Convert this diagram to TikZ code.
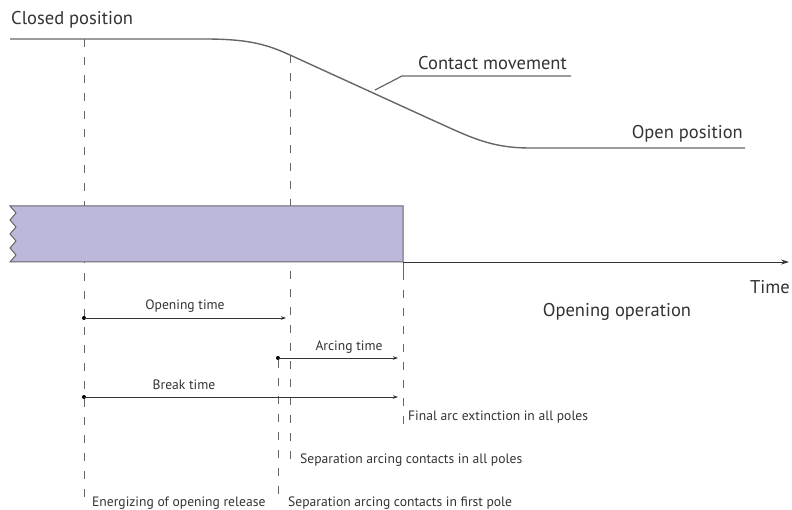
\documentclass[tikz,border=0pt]{standalone}
\usepackage{fontspec}
\setmainfont{PT Sans}
\usetikzlibrary{arrows.meta}
\definecolor{barfill}{HTML}{BBB8DA}
\definecolor{ink}{HTML}{333333}

\begin{document}
\begin{tikzpicture}[x=1pt, y=-1pt,
    biglabel/.style={inner sep=0pt, text=ink, font=\fontsize{18.5}{22}\selectfont},
    smalllabel/.style={inner sep=0pt, text=ink, font=\fontsize{13.6}{16}\selectfont},
    guide/.style={draw=black!60, line width=0.9pt, dash pattern=on 8pt off 10pt},
    span/.style={draw=ink, line width=0.8pt, -{Stealth[length=5pt, width=3.5pt]}},
    dot/.style={circle, fill=black, inner sep=0pt, minimum size=4pt},
]
    \useasboundingbox (0,0) rectangle (792,510);

    % instants on the time axis
    \coordinate (t0) at (84, 39);   \coordinate (b0) at (84, 506);
    \coordinate (t1) at (290, 55);  \coordinate (b1) at (290, 464);
    \coordinate (t2) at (403, 272); \coordinate (b2) at (403, 424);
    \coordinate (b3) at (278, 500);

    \foreach \i in {0, 1, 2} {
        \draw[guide] (t\i) -- (b\i);
    }

    % contact movement
    \coordinate (c0) at (10, 39);
    \coordinate (c1) at (745, 148);
    \draw[black!60, line width=1.4pt] (c0) -- (205, 39)
        .. controls (250, 39) and (268, 45) .. (t1) -- (430, 119)
        .. controls (470, 137) and (490, 148) .. (530, 148) -- (c1);

    \coordinate (m0) at (375, 90);
    \coordinate (m1) at (402, 76);
    \coordinate (m2) at (571, 76);
    \draw[black!60, line width=1.2pt] (m0) -- (m1) -- (m2);

    \node[biglabel, anchor=west] (closed) at (11, 20) {Closed position};
    \node[biglabel, anchor=south west] (move) at (418, 70) {Contact movement};
    \node[biglabel, anchor=south east] (open) at (743, 142) {Open position};

    % arcing bar
    \filldraw[fill=barfill, draw=black!60, line width=1pt]
        (403, 206) -- (10, 206)
        \foreach \k in {0, 1, 2, 3} { -- (16, 213 + 14*\k) -- (10, 220 + 14*\k) }
        -- (403, 262) -- cycle;
    \draw[black!60, line width=1pt] (403, 262) -- (t2);

    \coordinate (ax0) at (403, 262);
    \coordinate (ax1) at (789, 262);
    \draw[ink, line width=0.9pt, -{Stealth[length=8pt, width=5pt]}] (ax0) -- (ax1);
    \node[biglabel, anchor=east] (time) at (790, 287) {Time};
    \node[biglabel] (oper) at (617, 312) {Opening operation};

    % intervals
    \node[dot] (o0) at (84, 318) {};
    \node[dot] (a0) at (278, 358) {};
    \node[dot] (k0) at (84, 397) {};
    \coordinate (o1) at (286, 318);
    \coordinate (a1) at (398, 358);
    \coordinate (k1) at (398, 397);

    \draw[guide] (a0) -- (b3);
    \draw[span] (o0.center) -- (o1);
    \draw[span] (a0.center) -- (a1);
    \draw[span] (k0.center) -- (k1);

    \node[smalllabel] (otime) at (185, 306) {Opening time};
    \node[smalllabel] (atime) at (349, 347) {Arcing time};
    \node[smalllabel] (ktime) at (184, 385) {Break time};

    % events
    \node[smalllabel, anchor=west] (final) at (408, 417) {Final arc extinction in all poles};
    \node[smalllabel, anchor=west] (sepall) at (300, 460) {Separation arcing contacts in all poles};
    \node[smalllabel, anchor=west] (sepfirst) at (288, 503) {Separation arcing contacts in first pole};
    \node[smalllabel, anchor=west] (energ) at (92, 503) {Energizing of opening release};

\end{tikzpicture}
\end{document}
